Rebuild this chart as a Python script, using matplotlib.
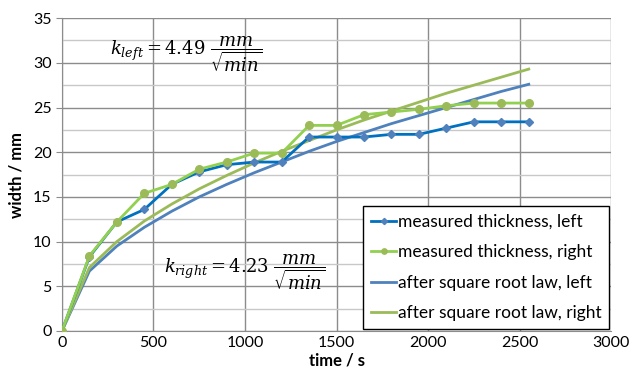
import matplotlib.pyplot as plt
from matplotlib.ticker import MultipleLocator

plt.rcParams['font.family'] = ['Lato', 'DejaVu Sans']
plt.rcParams['mathtext.fontset'] = 'dejavuserif'

# time in s
t = [0, 150, 300, 450, 600, 750, 900, 1050, 1200, 1350, 1500, 1650, 1800, 1950, 2100, 2250, 2400, 2550]
# measured widths in mm
meas_left = [0, 8.3, 12.2, 13.6, 16.4, 17.8, 18.6, 18.9, 18.9, 21.7, 21.7, 21.7, 22.0, 22.0, 22.7, 23.4, 23.4, 23.4]
meas_right = [0, 8.4, 12.2, 15.4, 16.4, 18.1, 18.9, 19.9, 19.9, 23.0, 23.0, 24.2, 24.5, 24.8, 25.2, 25.5, 25.5, 25.5]
# square root law curves
fit_left = [0, 6.7, 9.5, 11.6, 13.4, 15.0, 16.4, 17.7, 18.9, 20.1, 21.2, 22.2, 23.2, 24.1, 25.0, 25.9, 26.8, 27.6]
fit_right = [0, 7.1, 10.0, 12.3, 14.2, 15.9, 17.4, 18.8, 20.1, 21.3, 22.5, 23.6, 24.6, 25.6, 26.6, 27.5, 28.4, 29.3]

fig = plt.figure(figsize=(6.32, 3.86), dpi=100)
ax = fig.add_axes([0.098, 0.1425, 0.869, 0.8105])

ax.plot(t, meas_left, color='#0070C0', lw=2, marker='D', ms=4.5,
        mfc='#4F81BD', mec='#4F81BD', label='measured thickness, left', zorder=4)
ax.plot(t, meas_right, color='#92D050', lw=2, marker='o', ms=5.5,
        mfc='#9BBB59', mec='#9BBB59', label='measured thickness, right', zorder=4)
ax.plot(t, fit_left, color='#4F81BD', lw=2, label='after square root law, left', zorder=3)
ax.plot(t, fit_right, color='#9BBB59', lw=2, label='after square root law, right', zorder=3)

ax.set_xlim(0, 3000)
ax.set_ylim(0, 35)
ax.xaxis.set_major_locator(MultipleLocator(500))
ax.yaxis.set_major_locator(MultipleLocator(5))
ax.yaxis.set_minor_locator(MultipleLocator(2.5))
ax.grid(True, which='major', color='#8c8c8c', lw=1)
ax.grid(True, which='minor', axis='y', color='#c8c8c8', lw=1)
ax.set_axisbelow(True)
ax.tick_params(which='major', length=4, color='#8c8c8c', labelsize=11.5)
ax.tick_params(which='minor', length=0)
ax.tick_params(axis='x', length=0)
for s in ax.spines.values():
    s.set_visible(False)
ax.spines['left'].set_visible(True)
ax.spines['bottom'].set_visible(True)
ax.spines['left'].set_color('#8c8c8c')
ax.spines['bottom'].set_color('#8c8c8c')

ax.set_xlabel('time / s', fontsize=12, fontweight='bold', labelpad=2)
ax.set_ylabel('width / mm', fontsize=12, fontweight='bold', labelpad=6)

ax.text(262, 31.0, r'$k_{left} = 4.49\ \dfrac{mm}{\sqrt{min}}$', fontsize=13, va='center')
ax.text(560, 6.6, r'$k_{right} = 4.23\ \dfrac{mm}{\sqrt{min}}$', fontsize=13, va='center')

leg = ax.legend(loc='lower right', fontsize=12.5, frameon=True, fancybox=False,
                edgecolor='black', framealpha=1, handlelength=1.45, handletextpad=0.1,
                borderpad=0.45, labelspacing=0.84, markerscale=0.7,
                borderaxespad=0.1)
leg.get_frame().set_linewidth(1)

fig.savefig('out.png', dpi=100)
